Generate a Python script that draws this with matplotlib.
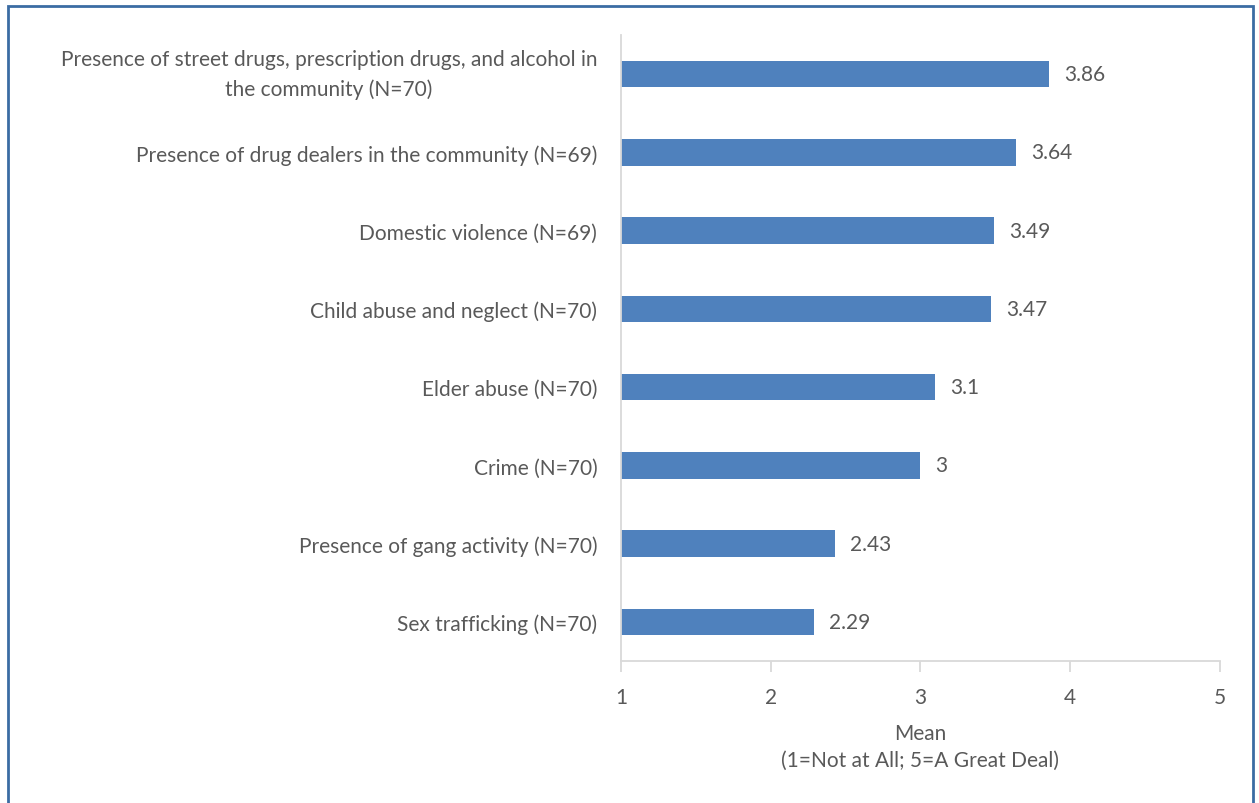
import matplotlib.pyplot as plt
from matplotlib.patches import Rectangle

categories = [
    'Presence of street drugs, prescription drugs, and alcohol in\nthe community (N=70)',
    'Presence of drug dealers in the community (N=69)',
    'Domestic violence (N=69)',
    'Child abuse and neglect (N=70)',
    'Elder abuse (N=70)',
    'Crime (N=70)',
    'Presence of gang activity (N=70)',
    'Sex trafficking (N=70)',
]
means = [3.86, 3.64, 3.49, 3.47, 3.1, 3, 2.43, 2.29]
value_labels = ['3.86', '3.64', '3.49', '3.47', '3.1', '3', '2.43', '2.29']
x_ticks = [1, 2, 3, 4, 5]

TEXT = '#595959'
BAR = '#4F81BD'
GRID = '#D9D9D9'
FS = 15

plt.rcParams['font.family'] = ['Lato', 'DejaVu Sans']

fig = plt.figure(figsize=(12.59, 8.04), dpi=100)
ax = fig.add_axes([0.4932, 0.1766, 0.4758, 0.7786])

ypos = list(range(len(categories)))
ax.barh(ypos, [m - 1 for m in means], left=1, height=0.34, color=BAR)
for y, m, lab in zip(ypos, means, value_labels):
    ax.text(m + 0.1, y, lab, va='center', ha='left', fontsize=FS, color=TEXT)

ax.set_yticks(ypos)
ax.set_yticklabels(categories, fontsize=FS, color=TEXT, ha='right',
                   multialignment='center', linespacing=1.6)
ax.tick_params(axis='y', length=0, pad=17)
# two-line label: center the whole block on the bar
for t in ax.get_yticklabels():
    if '\n' in t.get_text():
        t.set_va('center')

ax.set_ylim(len(categories) - 0.5, -0.5)
ax.set_xlim(1, 5)
ax.set_xticks(x_ticks)
ax.set_xticklabels([str(v) for v in x_ticks], fontsize=FS, color=TEXT)
ax.tick_params(axis='x', length=8, color=GRID, width=1.3, pad=11)

for s in ['top', 'right']:
    ax.spines[s].set_visible(False)
ax.spines['left'].set_color(GRID)
ax.spines['bottom'].set_color(GRID)
ax.spines['left'].set_linewidth(1.3)
ax.spines['bottom'].set_linewidth(1.3)

ax.set_xlabel('Mean\n(1=Not at All; 5=A Great Deal)', fontsize=FS, color=TEXT,
              labelpad=11, linespacing=1.45)

fig.patches.append(Rectangle((8 / 1259, -0.05), 1245 / 1259, 1.05 - 7 / 804,
                             transform=fig.transFigure, fill=False,
                             edgecolor='#3B6CA3', linewidth=2))

fig.savefig('out.png', dpi=100, facecolor='white')
